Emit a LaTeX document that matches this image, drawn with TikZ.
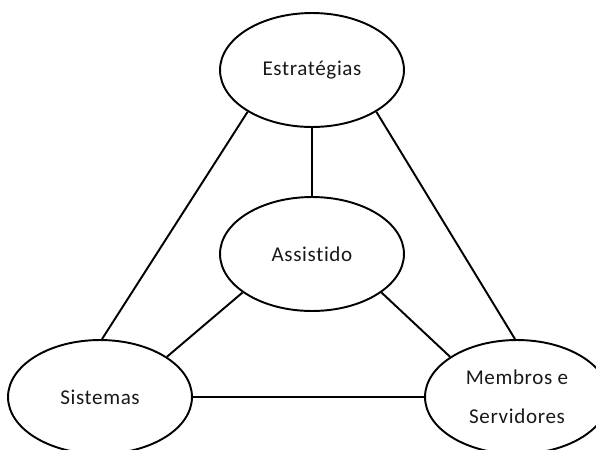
\documentclass[tikz,border=0pt]{standalone}
\usepackage{fontspec}
\setmainfont{Carlito}[LetterSpace=3,Ligatures={NoCommon}]
\usetikzlibrary{shapes.geometric}

\begin{document}
\begin{tikzpicture}[x=0.02cm,y=-0.02cm,
  blob/.style={draw=black,line width=1.1pt,ellipse,inner sep=0pt,minimum width=3.68cm,minimum height=2.28cm,font=\fontsize{12}{22}\selectfont,align=center,text=black!90},
  link/.style={draw=black,line width=1.1pt}]
\useasboundingbox (0,0) rectangle (596,450);
% the four ellipses
\node[blob] (est) at (312,70) {Estratégias};
\node[blob] (ass) at (312,254) {Assistido};
\node[blob] (sis) at (100,397) {Sistemas};
\node[blob] (mem) at (517,397) {Membros e\\Servidores};
% connectors
\draw[link] (est.213) -- (sis.88);
\draw[link] (est.327) -- (mem.92);
\draw[link] (est.south) -- (ass.north);
\draw[link] (ass.209) -- (sis.31);
\draw[link] (ass.331) -- (mem.149);
\draw[link] (sis.east) -- (mem.west);
\end{tikzpicture}
\end{document}
